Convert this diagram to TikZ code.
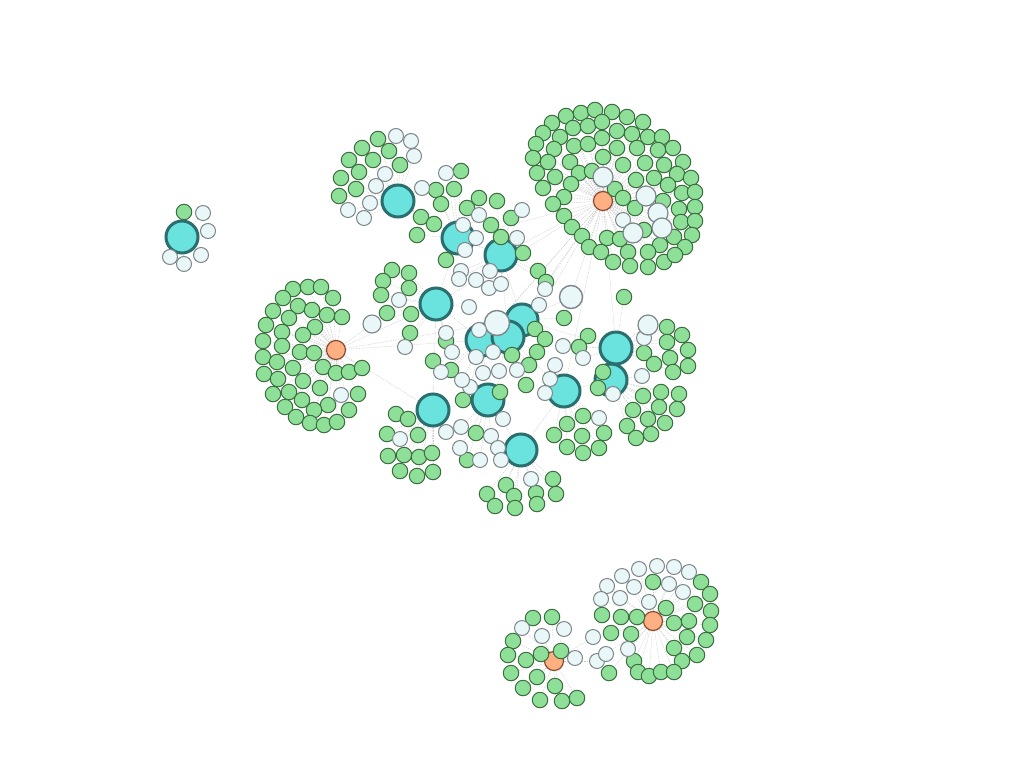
\documentclass[tikz,border=0pt]{standalone}
\usetikzlibrary{backgrounds}
\definecolor{gfill}{HTML}{8EE098}
\definecolor{gdraw}{HTML}{3C6E41}
\definecolor{lfill}{HTML}{EAF7F8}
\definecolor{ldraw}{HTML}{7D878A}
\definecolor{hfill}{HTML}{6AE2DE}
\definecolor{hdraw}{HTML}{2A6E6E}
\definecolor{ofill}{HTML}{FFB082}
\definecolor{odraw}{HTML}{8C4B2D}
\definecolor{ecol}{HTML}{C8C8C8}
\tikzset{
  gn/.style={circle, inner sep=0pt, minimum size=15.5pt, fill=gfill, draw=gdraw, line width=1pt},
  lt/.style={circle, inner sep=0pt, minimum size=15pt, fill=lfill, draw=ldraw, line width=1pt},
  ltbig/.style={lt, minimum size=20pt, line width=1.2pt},
  hub/.style={circle, inner sep=0pt, minimum size=32pt, fill=hfill, draw=hdraw, line width=3pt},
  org/.style={circle, inner sep=0pt, minimum size=19pt, fill=ofill, draw=odraw, line width=1.2pt},
  edge/.style={draw=ecol, line width=0.35pt, dash pattern=on 1.5pt off 1pt}
}
\def\glist{hA/184/212,
hB/378/139,hB/362/148,hB/389/151,hB/349/160,hB/373/160,hB/400/165,hB/359/172,hB/341/178,hB/356/189,hB/339/196,hB/421/217,hB/434/224,
hC/436/190,hC/454/189,hC/441/204,hC/461/171,hC/467/208,hC/479/198,hC/446/260,hC/417/235,
hD/497/201,hD/511/218,hD/491/225,hD/501/237,hD/523/253,hD/538/271,hD/546/282,
hE/392/270,hE/409/273,hE/383/281,hE/409/288,hE/381/295,hE/387/313,hE/411/314,hE/410/333,hE/446/341,
hF/535/329,hF/545/339,hF/564/318,
hG/451/370,hG/433/361,hH/512/355,hH/537/352,hH/529/365,hH/526/385,
hM/463/400,hM/500/392,hM/476/433,hM/467/460,
hI/588/336,hI/579/347,hI/624/297,hI/644/353,hI/667/327,hI/682/335,hI/667/342,hI/688/350,hI/670/358,hI/654/364,hI/688/366,hI/673/372,
hJ/603/372,hJ/598/388,hJ/661/392,hJ/679/394,hJ/643/396,hJ/633/410,hJ/659/407,hJ/677/409,hJ/648/419,hJ/627/426,hJ/665/423,hJ/651/434,hJ/636/438,
hK/567/424,hK/554/435,hK/583/416,hK/582/436,hK/604/433,hK/567/447,hK/599/448,hK/583/453,
hL/396/414,hL/408/419,hL/387/434,hL/418/435,hL/388/456,hL/404/455,hL/419/457,hL/432/453,hL/400/471,hL/417/476,hL/433/472,
hN/553/479,hN/506/485,hN/487/494,hN/514/496,hN/536/493,hN/556/494,hN/495/506,hN/515/508,hN/537/504,
oC/566/116,oC/581/113,oC/595/110,oC/612/112,oC/627/117,oC/643/122,oC/552/123,oC/573/128,oC/588/126,oC/602/122,oC/617/131,oC/632/134,oC/648/137,oC/662/137,oC/543/133,oC/560/137,oC/536/144,oC/554/149,oC/574/146,oC/588/144,oC/602/138,oC/617/148,oC/637/148,oC/658/150,oC/673/148,oC/533/158,oC/548/162,oC/570/162,oC/603/157,oC/623/165,oC/645/163,oC/664/165,oC/683/162,oC/537/173,oC/555/177,oC/579/173,oC/592/171,oC/636/180,oC/654/178,oC/677/174,oC/691/178,oC/543/188,oC/571/184,oC/615/189,oC/668/185,oC/682/193,oC/695/192,oC/564/197,oC/553/204,oC/623/198,oC/663/201,oC/635/208,oC/679/209,oC/695/207,oC/564/216,oC/644/230,oC/681/222,oC/695/221,oC/572/227,oC/582/236,oC/607/238,oC/620/239,oC/660/245,oC/674/237,oC/692/235,oC/589/247,oC/601/252,oC/628/252,oC/648/252,oC/685/247,oC/613/262,oC/630/266,oC/648/267,oC/664/262,oC/675/255,
oD/293/289,oD/308/287,oD/321/287,oD/333/298,oD/283/298,oD/298/306,oD/312/310,oD/327/315,oD/342/317,oD/273/311,oD/289/318,oD/315/327,oD/266/325,oD/282/332,oD/303/335,oD/263/341,oD/282/346,oD/300/352,oD/314/353,oD/263/357,oD/277/362,oD/293/368,oD/323/367,oD/336/373,oD/349/372,oD/362/368,oD/264/374,oD/278/379,oD/303/381,oD/320/388,oD/358/394,oD/273/394,oD/289/392,oD/302/400,oD/328/405,oD/349/410,oD/285/407,oD/314/410,oD/296/417,oD/310/423,oD/324/425,oD/337/422,
oL/533/618,oL/552/617,oL/513/641,oL/508/655,oL/526/660,oL/541/654,oL/561/651,oL/511/673,oL/537/677,oL/555/686,oL/523/688,oL/540/700,oL/562/701,oL/577/698,
oR/609/673,oR/611/633,oR/631/634,oR/634/661,oR/701/582,oR/653/582,oR/710/594,oR/695/604,oR/666/608,oR/711/611,oR/602/615,oR/621/617,oR/637/617,oR/674/623,oR/689/621,oR/710/625,oR/687/637,oR/706/640,oR/674/648,oR/697/655,oR/682/661,oR/638/672,oR/649/676,oR/661/672,oR/674/672}
\def\llist{hA/203/213,hA/208/231,hA/201/255,hA/184/264,hA/170/257,
hB/396/136,hB/411/141,hB/414/156,hB/385/174,hB/376/186,hB/422/188,hB/370/203,hB/348/210,hB/364/218,
hC/446/173,hC/463/225,hC/476/238,hC/465/250,hC/479/215,
hD/522/210,hD/517/238,hD/490/271,hD/476/280,hD/461/271,hD/459/279,hD/489/288,hD/501/284,
hE/399/300,hE/469/307,hE/405/347,hE/446/333,hE/452/352,
hF/539/305,hF/545/289,
hG/479/330,hG/476/357,hG/493/352,hG/483/373,hG/470/387,hG/462/380,hG/441/372,
hH/499/371,hH/517/370,
hI/644/338,hI/583/358,hI/563/346,
hJ/642/376,hJ/613/394,
hK/555/365,hK/550/379,hK/545/393,hK/599/418,
hL/400/439,hL/446/432,
hM/503/419,hM/461/427,hM/491/436,hM/460/448,hM/480/460,
hN/498/448,hN/501/460,hN/531/479,
oC/623/220,oD/341/395,
oL/522/628,oL/542/636,oL/564/629,oL/575/658,oL/593/637,oL/597/661,
oR/606/654,oR/628/649,oR/622/576,oR/639/569,oR/657/566,oR/674/567,oR/689/572,oR/607/586,oR/669/584,oR/634/587,oR/601/599,oR/620/598,oR/649/602,oR/683/592}
\def\blist{oC/603/177,oC/646/196,oC/658/213,oC/633/233,oC/662/228,hI/648/325}
\pgfdeclarelayer{bg}
\pgfsetlayers{bg,main}
\begin{document}
\begin{tikzpicture}[x=1pt,y=-1pt]
\useasboundingbox (0,0) rectangle (1024,768);
% hubs
\node[hub] (hA) at (182,237) {};
\node[hub] (hB) at (398,201) {};
\node[hub] (hC) at (458,238) {};
\node[hub] (hD) at (501,255) {};
\node[hub] (hE) at (436,304) {};
\node[hub] (hF) at (522,320) {};
\node[hub] (hG) at (482,340) {};
\node[hub] (hH) at (508,337) {};
\node[hub] (hJ) at (611,380) {};
\node[hub] (hI) at (616,348) {};
\node[hub] (hK) at (564,391) {};
\node[hub] (hL) at (433,410) {};
\node[hub] (hM) at (488,400) {};
\node[hub] (hN) at (521,450) {};
\node[org] (oC) at (603,201) {};
\node[org] (oD) at (336,350) {};
\node[org] (oL) at (554,661) {};
\node[org] (oR) at (653,621) {};
% special light nodes
\node[lt, minimum size=25pt, line width=1.4pt] (lc) at (497,323) {};
\node[lt, minimum size=23pt, line width=1.4pt] (lbig) at (571,297) {};
\node[lt, minimum size=18pt, line width=1.1pt] (ld) at (372,324) {};
% leaves
\foreach \h/\x/\y [count=\k] in \glist {\node[gn] (g\k) at (\x,\y) {};}
\foreach \h/\x/\y [count=\k] in \llist {\node[lt] (l\k) at (\x,\y) {};}
\foreach \h/\x/\y [count=\k] in \blist {\node[ltbig] (b\k) at (\x,\y) {};}
% connectors
\begin{pgfonlayer}{bg}
\foreach \h/\x/\y [count=\k] in \glist {\draw[edge] (\h) -- (g\k);}
\foreach \h/\x/\y [count=\k] in \llist {\draw[edge] (\h) -- (l\k);}
\foreach \h/\x/\y [count=\k] in \blist {\draw[edge] (\h) -- (b\k);}
\foreach \a/\b in {oC/hD,oC/hF,oC/hH,oC/hG,oC/hC,oC/lc,oC/lbig,oC/hI,oC/hE,oC/hM,oC/hK,
  oD/hE,oD/hG,oD/ld,oD/lc,oD/hL,ld/hE,lbig/hF,lc/hG,lc/hH,
  hB/hC,hC/hD,hD/hF,hE/hG,hG/hH,hH/hF,hG/hM,hM/hL,hM/hN,hH/hK,hK/hJ,hI/hJ,hF/hI,hE/hL,hD/hH,hC/hE,hN/hK}
  {\draw[edge] (\a) -- (\b);}
\end{pgfonlayer}
\end{tikzpicture}
\end{document}
